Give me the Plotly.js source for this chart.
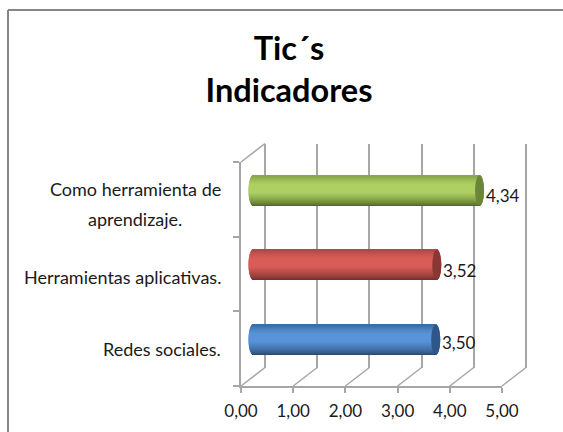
<!DOCTYPE html>
<html><head><meta charset="utf-8">
<script src="https://cdn.plot.ly/plotly-3.0.1.min.js"></script>
<style>html,body{margin:0;padding:0;background:#fff}#c{width:563px;height:432px}</style>
</head><body><div id="c"></div>
<script>
var categories = ['Redes sociales.', 'Herramientas aplicativas.', 'Como herramienta de<br>aprendizaje.'];
var values = [3.50, 3.52, 4.34];
var xTicks = [0, 1, 2, 3, 4, 5];
var barTop = ['#3a6aa3', '#a84a47', '#86a548'];
var barMid = ['#5793d6', '#da5c59', '#aed062'];
var barBottom = ['#26436c', '#6c2a28', '#4a5f26'];
var barCap = ['#2f5688', '#893634', '#6b8637'];

var W = 563, H = 432;
var F = {l: 241, r: 502, t: 162, b: 386};   // front plane, px
var D = {x: 24, y: 18.5};                   // wall depth, px
var GRID = '#a6a6a6';
var font = 'Lato, Carlito, sans-serif', ink = '#1a1a1a', fs = 18, tickFs = 17;
var pxU = (F.r - F.l) / 5;
function fx(p){return p / W;} function fy(p){return 1 - p / H;}

var pad = 0.3, gridPad = 0.03;
var barShift = {x: 12, y: 9};
var bandCount = 30, catPx = (F.b - F.t) / 3, barPx = 30, capU = 4.5 / pxU;
var traces = [
  {type:'scatter', x:values, y:categories, mode:'markers', marker:{opacity:0,size:1}, xaxis:'x', yaxis:'y', hoverinfo:'skip', showlegend:false},
  {type:'scatter', x:values, y:values, mode:'markers', marker:{opacity:0,size:1}, xaxis:'x2', yaxis:'y2', hoverinfo:'skip', showlegend:false}
];
function mix(a,b,t){
  var pa=parseInt(a.slice(1),16), pb=parseInt(b.slice(1),16), o=[];
  [16,8,0].forEach(function(s){o.push(Math.round(((pa>>s)&255)*(1-t)+((pb>>s)&255)*t));});
  return 'rgb('+o.join(',')+')';
}
for (var b = 0; b < bandCount; b++) {
  var t = (b + 0.5) / bandCount;           // 0 bottom, 1 top
  var s = 2 * t - 1, half = capU * Math.sqrt(Math.max(0, 1 - s * s));
  var cols = values.map(function(v, i){
    if (t < 0.45) return mix(barBottom[i], barMid[i], Math.pow(t / 0.45, 0.7));
    if (t < 0.7) return barMid[i];
    return mix(barMid[i], barTop[i], Math.pow((t - 0.7) / 0.3, 1.3));
  });
  traces.push({
    type:'bar', orientation:'h', xaxis:'x3', yaxis:'y3', showlegend:false, hoverinfo:'skip', opacity:1,
    y: categories,
    x: values.map(function(v){return v + 2 * half;}),
    base: values.map(function(){return -half;}),
    width: (barPx + 1) / bandCount / catPx,
    offset: (t - 0.5) * barPx / catPx - 0.5 / bandCount * barPx / catPx,
    marker:{color:cols, opacity:1, line:{width:0}}
  });
}

var shapes = [
  {type:'line', xref:'paper', yref:'paper', x0:fx(8), x1:fx(8), y0:fy(10), y1:0, line:{color:'#868686', width:2}},
  {type:'line', xref:'paper', yref:'paper', x0:fx(8), x1:1, y0:fy(10), y1:fy(10), line:{color:'#868686', width:2}},
  {type:'line', xref:'paper', yref:'paper', layer:'below', x0:fx(F.l), x1:fx(F.l + D.x), y0:fy(F.t), y1:fy(F.t - D.y), line:{color:GRID, width:1.5}}
];
xTicks.forEach(function(k){
  var p = F.l + k * pxU;
  shapes.push({type:'line', xref:'paper', yref:'paper', layer:'below', x0:fx(p), x1:fx(p + D.x), y0:fy(F.b), y1:fy(F.b - D.y), line:{color:GRID, width:1.5}});
});
values.forEach(function(v, i){
  var h = barPx / catPx / 2;
  shapes.push({type:'circle', xref:'x3', yref:'y3', layer:'above', x0:v - capU, x1:v + capU, y0:i - h, y1:i + h, fillcolor:barCap[i], line:{width:0}});
});

var labelLift = [-3, -5, -5];
var annotations = values.map(function(v, i){
  return {xref:'x3', yref:'y3', x:v, y:i, text:v.toFixed(2).replace('.', ','), showarrow:false,
    xanchor:'left', yanchor:'middle', xshift:4, yshift:labelLift[i], font:{family:font, size:tickFs, color:ink}};
});
// category labels: separate lines so the wide line spacing of the original can be kept
var catDrop = [0, 3, 4.6], lineGap = 30, labelRight = 223, labelCentre = 135;
categories.forEach(function(c, i){
  var lines = c.split('<br>');
  lines.forEach(function(line, j){
    annotations.push({xref:'paper', yref:'y', x: lines.length > 1 ? fx(labelCentre) : fx(labelRight), y:i, text:line, showarrow:false,
      xanchor: lines.length > 1 ? 'center' : 'right', yanchor:'middle',
      yshift: -catDrop[i] - (j - (lines.length - 1) / 2) * lineGap, font:{family:font, size:fs, color:ink}});
  });
});

var layout = {
  width:W, height:H, margin:{l:0,r:0,t:0,b:0}, paper_bgcolor:'#fff', plot_bgcolor:'rgba(0,0,0,0)',
  separators:',.', showlegend:false, barmode:'overlay', font:{family:font, color:ink},
  title:{text:'<b>Tic´s<br>Indicadores</b>', x:289/W, xanchor:'center', y:1-60/H, yanchor:'top', font:{family:font, size:32.5, color:'#000'}},
  xaxis:{domain:[fx(F.l), fx(F.r)], range:[0,5], anchor:'y', tickvals:xTicks, tickformat:'.2f', ticks:'outside', ticklen:5, tickcolor:GRID, tickwidth:1.5,
    ticklabelstandoff:4, showgrid:false, zeroline:false, showline:true, linecolor:GRID, linewidth:1.5, tickfont:{family:font, size:tickFs, color:ink}},
  yaxis:{domain:[fy(F.b), fy(F.t)], type:'category', categoryorder:'array', categoryarray:categories, range:[-0.5,2.5], anchor:'x',
    ticks:'outside', ticklen:6, tickcolor:GRID, tickwidth:1.5, tickson:'boundaries', showticklabels:false, showgrid:false, zeroline:false, showline:true, linecolor:GRID, linewidth:1.5},
  xaxis2:{domain:[fx(F.l + D.x - gridPad * pxU), fx(F.r + D.x + gridPad * pxU)], range:[-gridPad, 5 + gridPad], anchor:'y2', tickvals:xTicks, showticklabels:false, ticks:'', showgrid:true, gridcolor:GRID, gridwidth:1.5, zeroline:false, showline:false},
  yaxis2:{domain:[fy(F.b - D.y), fy(F.t - D.y)], anchor:'x2', showticklabels:false, ticks:'', showgrid:false, zeroline:false, showline:false},
  xaxis3:{domain:[fx(F.l + barShift.x - pad * pxU), fx(F.r + barShift.x + pad * pxU)], range:[-pad, 5 + pad], anchor:'y3', showticklabels:false, ticks:'', showgrid:false, zeroline:false, showline:false},
  yaxis3:{domain:[fy(F.b - barShift.y), fy(F.t - barShift.y)], type:'category', categoryorder:'array', categoryarray:categories, range:[-0.5,2.5], anchor:'x3', showticklabels:false, ticks:'', showgrid:false, zeroline:false, showline:false},
  shapes:shapes, annotations:annotations
};
Plotly.newPlot('c', traces, layout, {displayModeBar:false});
</script></body></html>
